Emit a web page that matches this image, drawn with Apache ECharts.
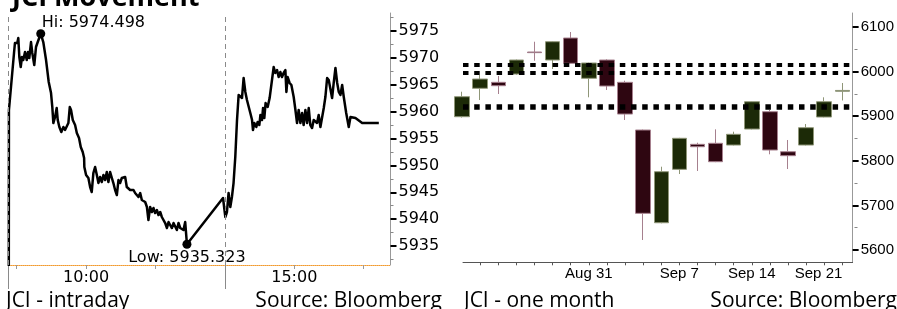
<!DOCTYPE html>
<html><head><meta charset="utf-8">
<script src="https://cdn.jsdelivr.net/npm/echarts@6/dist/echarts.min.js"></script>
<style>html,body{margin:0;padding:0;background:#fff;overflow:hidden}#c{width:897px;height:309px}</style>
</head><body><div id="c"></div>
<script>
// ---- intraday (time in trading minutes from 09:00, index level); first point = previous close ----
const intraday = [
[-6.8,5931.3],[-6.7,5960.30],[-2.3,5970.91],[-1.5,5972.77],[0.5,5972.77],[1.4,5973.70],[2.3,5970.16],[3.5,5968.30],
[4.6,5970.16],[5.7,5969.60],[7.2,5971.09],[8.7,5969.60],[9.8,5971.09],[10.9,5969.98],[12.4,5972.95],[13.5,5970.91],
[15.2,5968.67],[16.7,5972.02],[18.2,5972.95],[20.8,5974.498],[23.0,5972.95],[25.4,5969.60],[27.7,5965.51],[28.8,5965.51],
[29.7,5963.46],[30.8,5960.86],[31.7,5957.88],[33.2,5959.00],[34.6,5960.67],[35.5,5958.44],[36.9,5957.14],[38.6,5956.21],
[40.4,5957.14],[41.8,5956.58],[43.3,5956.95],[44.7,5957.88],[45.9,5960.86],[47.0,5960.30],[48.5,5958.44],[50.5,5957.51],
[52.0,5956.02],[53.9,5955.09],[55.4,5953.42],[57.1,5952.49],[58.3,5951.37],[58.5,5949.70],[60.0,5948.21],[62.0,5947.65],
[63.5,5945.98],[64.9,5945.05],[66.3,5948.58],[67.8,5949.70],[69.3,5948.21],[70.7,5946.72],[72.1,5947.84],[73.6,5946.91],
[75.0,5948.21],[76.5,5947.28],[77.9,5948.77],[79.3,5946.91],[80.8,5948.77],[82.3,5947.65],[83.6,5946.72],[85.1,5945.42],
[86.6,5944.49],[88.0,5947.28],[89.4,5946.72],[90.9,5947.65],[92.3,5947.28],[93.8,5947.84],[95.2,5945.98],[96.6,5945.79],
[98.1,5945.42],[99.6,5945.05],[101.0,5945.42],[102.4,5944.86],[103.9,5944.49],[105.3,5944.12],[106.8,5944.86],[108.2,5943.56],
[109.6,5943.93],[111.1,5943.19],[112.6,5942.26],[113.9,5939.84],[115.4,5942.26],[116.9,5941.33],[118.3,5942.07],[119.7,5941.14],
[121.2,5941.70],[122.6,5940.77],[124.1,5941.33],[125.5,5940.40],[126.9,5940.77],[128.4,5939.28],[129.9,5938.35],[131.3,5939.46],
[132.7,5938.91],[134.2,5938.35],[135.6,5939.28],[137.1,5938.91],[138.5,5937.98],[139.9,5939.28],[141.4,5938.35],[142.9,5938.53],
[144.2,5937.98],[145.7,5939.46],[147.2,5935.323],
[178.4,5943.93],[180.4,5940.40],[181.8,5941.33],[183.2,5944.86],[184.7,5942.26],[186.1,5944.12],[187.5,5946.72],[189.0,5951.56],
[190.5,5958.44],[191.9,5963.09],[193.3,5962.72],[194.8,5962.53],[196.2,5966.26],[197.7,5963.65],[199.1,5962.16],[200.5,5961.79],
[202.0,5959.74],[203.5,5958.44],[204.3,5956.58],[205.5,5957.88],[207.2,5957.14],[208.3,5958.07],[209.8,5957.51],[210.7,5959.37],
[212.1,5958.44],[213.0,5960.67],[214.1,5958.81],[215.2,5961.60],[217.0,5960.86],[218.7,5962.53],[220.2,5962.72],[222.2,5968.30],
[223.6,5967.19],[225.1,5967.74],[226.5,5966.44],[228.0,5967.37],[229.4,5966.44],[230.8,5967.19],[232.3,5967.74],[233.2,5963.65],
[234.3,5966.44],[236.0,5965.33],[237.5,5964.95],[239.5,5962.72],[241.0,5960.30],[242.4,5957.88],[243.8,5960.30],[245.3,5957.88],
[246.8,5959.74],[248.1,5957.51],[249.6,5960.30],[251.1,5957.88],[252.5,5960.67],[253.9,5957.51],[255.4,5956.95],[256.8,5958.44],
[258.3,5958.81],[259.7,5957.88],[261.1,5959.37],[262.6,5957.14],[264.1,5956.95],[265.5,5960.67],[266.9,5962.72],[268.4,5966.26],
[269.8,5965.88],[271.3,5965.88],[272.7,5962.53],[274.1,5965.33],[275.6,5968.12],[277.1,5965.33],[278.5,5963.65],[279.9,5963.09],
[281.4,5964.95],[282.8,5962.72],[284.9,5959.74],[287.1,5957.14],[288.6,5959.00],[292.9,5958.81],[298.7,5957.88],[313.1,5957.88]
];
const intradayXLabels = {60: '10:00', 240: '15:00'};
const intradayXTicks = [0, 60, 120, 180, 240, 300];
const intradaySessionMarks = [-6.9, 180];
const intradayYLabels = [5935, 5940, 5945, 5950, 5955, 5960, 5965, 5970, 5975];
const intradayYMinor = [5932.5, 5937.5, 5942.5, 5947.5, 5952.5, 5957.5, 5962.5, 5967.5, 5972.5, 5977.5];

// ---- one month candles ----
const candleDates = ['Aug 21','Aug 23','Aug 24','Aug 27','Aug 28','Aug 29','Aug 30','Aug 31','Sep 3','Sep 4','Sep 5',
  'Sep 6','Sep 7','Sep 10','Sep 12','Sep 13','Sep 14','Sep 17','Sep 18','Sep 19','Sep 20','Sep 21'];
const candleOpen  = [5898.9,5962.6,5976.0,5994.6,6044.0,6026.0,6075.3,5985.0,6026.0,5976.0,5869.1,5661.2,5780.9,5837.0,5839.3,5835.4,5871.3,5910.1,5820.4,5835.4,5898.2,5956.0];
const candleClose = [5943.7,5983.4,5968.4,6026.0,6042.5,6067.0,6018.6,6019.3,5967.7,5904.9,5682.3,5775.6,5850.5,5831.6,5798.0,5859.4,5932.5,5824.2,5811.5,5874.2,5932.5,5957.8];
const candleLow   = [5897.0,5936.3,5949.8,5993.0,6024.4,6005.8,6018.0,5942.4,5958.8,5891.5,5622.5,5660.0,5770.4,5777.2,5797.0,5834.5,5870.5,5814.6,5781.6,5834.5,5897.5,5935.3];
const candleHigh  = [5954.9,5992.4,5990.1,6027.0,6067.0,6068.0,6088.8,6020.0,6027.6,5979.6,5870.0,5786.8,5851.5,5840.6,5870.6,5865.3,5933.0,5913.9,5846.7,5882.5,5942.4,5974.5];
const candleLabelIdx = [7, 12, 16, 21];
const monthYLabels = [5600, 5700, 5800, 5900, 6000, 6100];
const monthYMinor = [5650, 5750, 5850, 5950, 6050];
const levelLines = [6015.5, 5996.9, 5922.2];

// session high / low (excluding previous-close anchor point)
const session = intraday.slice(1);
const hiPt = session.reduce((a, b) => (b[1] > a[1] ? b : a));
const loPt = session.reduce((a, b) => (b[1] < a[1] ? b : a));

const chart = echarts.init(document.getElementById('c'), null, {renderer: 'canvas'});
const fL = '"DejaVu Sans"';
const fR = '"Liberation Sans"';
const gL = {left: 8.7, right: 506.5, top: 13, bottom: 44};
const gR = {left: 463, right: 42.5, top: 13, bottom: 46.7};
const hiddenX = (g, min, max) => ({type: 'value', gridIndex: g, min, max, show: false, axisLine: {onZero: false}});

const option = {
  animation: false,
  backgroundColor: '#fff',
  grid: [gL, gR, Object.assign({}, gL), Object.assign({}, gR)],
  xAxis: [
    {type: 'value', gridIndex: 0, min: -6.9, max: 323.2,
     axisLine: {show: true, onZero: false, lineStyle: {color: '#f29a2e', type: 'dotted', width: 1}},
     axisTick: {show: true, customValues: intradayXTicks, length: 4, lineStyle: {color: '#999'}},
     axisLabel: {customValues: [60, 240], formatter: v => intradayXLabels[v] || '', fontFamily: fL, fontSize: 16, color: '#000', margin: 5},
     splitLine: {show: false}},
    {type: 'value', gridIndex: 0, min: -6.9, max: 323.2, position: 'bottom',
     axisLine: {show: false, onZero: false},
     axisTick: {show: true, customValues: intradaySessionMarks, length: 24, lineStyle: {color: '#8a8a8a'}},
     axisLabel: {show: false}, splitLine: {show: false}},
    {type: 'value', gridIndex: 1, min: 0.05, max: 21.57,
     axisLine: {show: true, onZero: false, lineStyle: {color: '#555', width: 1}},
     axisTick: {show: true, customValues: candleDates.map((d, i) => i), length: 3, lineStyle: {color: '#555'}},
     axisLabel: {customValues: candleLabelIdx, formatter: v => candleDates[v] || '', fontFamily: fR, fontSize: 15, color: '#000', margin: 4, alignMaxLabel: 'right'},
     splitLine: {show: false}},
    hiddenX(2, -6.9, 323.2),
    hiddenX(3, 0.05, 21.57)
  ],
  yAxis: [
    {type: 'value', gridIndex: 0, position: 'right', min: 5931.47, max: 5978.35,
     axisLine: {show: true, onZero: false, lineStyle: {color: '#999'}},
     axisTick: {show: true, customValues: intradayYLabels, length: 6, lineStyle: {color: '#000', width: 2}},
     axisLabel: {customValues: intradayYLabels, formatter: v => String(v), fontFamily: fL, fontSize: 16, color: '#000', margin: 8},
     splitLine: {show: false}},
    {type: 'value', gridIndex: 1, position: 'right', min: 5572.5, max: 6131.4,
     axisLine: {show: true, onZero: false, lineStyle: {color: '#999'}},
     axisTick: {show: true, customValues: monthYLabels, length: 6, lineStyle: {color: '#000', width: 2}},
     axisLabel: {customValues: monthYLabels, formatter: v => String(v), fontFamily: fR, fontSize: 15, color: '#000', margin: 8},
     splitLine: {show: false}},
    {type: 'value', gridIndex: 2, position: 'right', min: 5931.47, max: 5978.35,
     axisLine: {show: false, onZero: false},
     axisTick: {show: true, customValues: intradayYMinor, length: 3, lineStyle: {color: '#888'}},
     axisLabel: {show: false}, splitLine: {show: false}},
    {type: 'value', gridIndex: 3, position: 'right', min: 5572.5, max: 6131.4,
     axisLine: {show: false, onZero: false},
     axisTick: {show: true, customValues: monthYMinor, length: 3, lineStyle: {color: '#888'}},
     axisLabel: {show: false}, splitLine: {show: false}}
  ],
  series: [
    {type: 'line', xAxisIndex: 0, yAxisIndex: 0, data: intraday, showSymbol: false, symbol: 'none',
     lineStyle: {color: '#000', width: 2.5, join: 'round'}, z: 3,
     markLine: {silent: true, symbol: ['none', 'none'], label: {show: false},
       lineStyle: {color: '#8a8a8a', type: [5, 4], width: 1},
       data: intradaySessionMarks.map(v => ({xAxis: v}))},
     markPoint: {silent: true, symbol: 'circle', symbolSize: 9, itemStyle: {color: '#000'},
       data: [
         {name: 'Hi', coord: hiPt, value: hiPt[1], label: {show: true, formatter: p => 'Hi: ' + p.value.toFixed(3), position: [5.5, -6.6], align: 'left', verticalAlign: 'middle', fontFamily: fL, fontSize: 16, color: '#000'}},
         {name: 'Low', coord: loPt, value: loPt[1], label: {show: true, formatter: p => 'Low: ' + p.value.toFixed(3), position: [4.5, 18], align: 'center', verticalAlign: 'middle', fontFamily: fL, fontSize: 16, color: '#000'}}
       ]}},
    {type: 'candlestick', xAxisIndex: 2, yAxisIndex: 1, barWidth: 15,
     data: candleDates.map((d, i) => [i, candleOpen[i], candleClose[i], candleLow[i], candleHigh[i]]),
     itemStyle: {color: '#1c2a07', color0: '#2e0611', borderColor: '#8f9678', borderColor0: '#a6808e', borderWidth: 1},
     markLine: {silent: true, symbol: ['none', 'none'], label: {show: false},
       lineStyle: {color: '#000', type: [5.5, 5.7], width: 4, cap: 'butt'},
       data: levelLines.map((v, i) => ({yAxis: v, lineStyle: {width: i === 2 ? 5.5 : 4}}))}}
  ],
  graphic: [
    {type: 'text', silent: true, style: {text: 'JCI Movement', x: 12, y: -1.8, font: 'bold 27px "Open Sans"', fill: '#000', align: 'left', verticalAlign: 'middle'}},
    {type: 'text', silent: true, style: {text: 'JCI - intraday', x: 6, y: 300.7, font: '21px "Open Sans"', fill: '#000', align: 'left', verticalAlign: 'middle'}},
    {type: 'text', silent: true, style: {text: 'Source: Bloomberg', x: 442, y: 300.7, font: '21px "Open Sans"', fill: '#000', align: 'right', verticalAlign: 'middle'}},
    {type: 'text', silent: true, style: {text: 'JCI - one month', x: 464, y: 300.7, font: '21px "Open Sans"', fill: '#000', align: 'left', verticalAlign: 'middle'}},
    {type: 'text', silent: true, style: {text: 'Source: Bloomberg', x: 897, y: 300.7, font: '21px "Open Sans"', fill: '#000', align: 'right', verticalAlign: 'middle'}}
  ]
};
chart.setOption(option);
</script>
</body></html>
